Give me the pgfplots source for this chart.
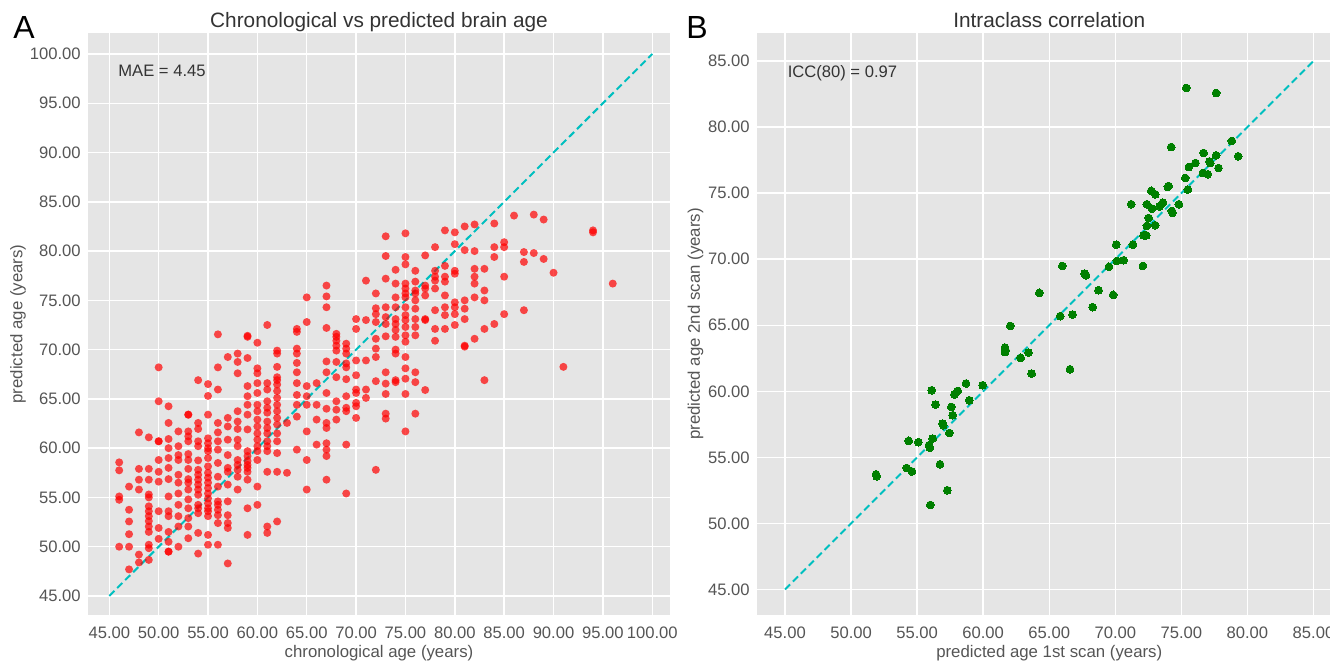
\documentclass[border=0pt]{standalone}
\usepackage{fontspec}
\setmainfont{Liberation Sans}
\usepackage{pgfplots}
\pgfplotsset{compat=1.18}
\definecolor{bg}{HTML}{E5E5E5}
\definecolor{tickgray}{HTML}{555555}
\definecolor{textgray}{HTML}{333333}
\definecolor{mcyan}{HTML}{00BFBF}
\definecolor{mgreen}{HTML}{008000}
\pgfplotsset{ggstyle/.style={
  scale only axis, height=291pt,
  axis background/.style={fill=bg},
  axis line style={draw=none},
  grid=major, major grid style={white, line width=0.7pt},
  major tick length=0pt, tick style={draw=none},
  /pgf/number format/fixed, /pgf/number format/fixed zerofill,
  /pgf/number format/precision=2, /pgf/number format/assume math mode=true,
  ticklabel style={font=\fontsize{8.3}{10}\selectfont, text=tickgray, inner sep=0pt},
  xticklabel style={anchor=north, yshift=-5.6pt},
  yticklabel style={anchor=east, xshift=-3.5pt},
  label style={font=\fontsize{8.4}{10}\selectfont, text=tickgray, inner sep=0pt},
  title style={font=\fontsize{10.4}{12}\selectfont, text=textgray, inner sep=0pt,
     at={(axis description cs:0.5,1)}, anchor=base, yshift=-3.15pt},
}}
\begin{document}
\begin{tikzpicture}
\begin{axis}[ggstyle, at={(44pt,22.5pt)}, anchor=south west, width=291pt,
  xmin=42.84, xmax=101.8, ymin=43.07, ymax=102.13,
  xtick={45,50,...,100}, ytick={45,50,...,100},
  title={Chronological vs predicted brain age},
  xlabel={chronological age (years)}, ylabel={predicted age (years)},
  xlabel style={at={(axis description cs:0.5,0)}, anchor=base, yshift=-21.3pt},
  ylabel style={at={(axis description cs:-0.1129,0.5)}, anchor=base},
]
\addplot[only marks, mark=*, mark size=2pt, mark options={fill=red, fill opacity=0.7, draw opacity=0, line width=0pt}] table[row sep=\\] {
x y\\
46 58.56\\ 46 57.75\\ 46 55.1\\ 46 54.76\\ 46 50.0\\
47 56.1\\ 47 53.75\\ 47 52.56\\ 47 51.27\\ 47 50.0\\ 47 47.7\\
48 61.6\\ 48 57.9\\ 48 56.8\\ 48 55.8\\ 48 49.2\\ 48 48.4\\
49 61.1\\ 49 57.9\\ 49 56.8\\ 49 55.3\\ 49 55.0\\ 49 54.1\\ 49 53.6\\ 49 53.1\\ 49 52.6\\ 49 52.05\\ 49 51.5\\ 49 50.2\\ 49 49.85\\ 49 48.66\\
50 68.2\\ 50 64.76\\ 50 60.7\\ 50 60.7\\ 50 58.8\\ 50 57.6\\ 50 56.6\\ 50 53.6\\ 50 51.9\\ 50 50.8\\
51 64.25\\ 51 62.56\\ 51 60.93\\ 51 60.0\\ 51 59.0\\ 51 58.0\\ 51 56.86\\ 51 55.1\\ 51 53.6\\ 51 53.1\\ 51 51.5\\ 51 50.5\\ 51 49.5\\ 51 49.5\\
52 61.7\\ 52 60.2\\ 52 59.3\\ 52 58.8\\ 52 57.3\\ 52 56.5\\ 52 55.4\\ 52 54.25\\ 52 53.1\\ 52 52.05\\ 52 50.0\\
53 63.4\\ 53 63.4\\ 53 61.7\\ 53 61.2\\ 53 60.7\\ 53 59.4\\ 53 58.8\\ 53 57.9\\ 53 56.86\\ 53 56.5\\ 53 55.8\\ 53 54.8\\ 53 53.9\\ 53 52.9\\ 53 52.05\\ 53 50.86\\
54 66.9\\ 54 62.56\\ 54 61.95\\ 54 60.7\\ 54 60.2\\ 54 58.76\\ 54 57.8\\ 54 57.3\\ 54 56.8\\ 54 56.3\\ 54 55.8\\ 54 55.27\\ 54 54.25\\ 54 53.9\\ 54 53.4\\ 54 51.4\\ 54 49.3\\
55 66.5\\ 55 65.3\\ 55 63.4\\ 55 61.0\\ 55 60.5\\ 55 60.0\\ 55 59.7\\ 55 59.0\\ 55 58.15\\ 55 57.5\\ 55 57.0\\ 55 56.5\\ 55 55.95\\ 55 55.4\\ 55 54.9\\ 55 54.4\\ 55 53.9\\ 55 53.6\\ 55 53.1\\ 55 51.2\\ 55 50.2\\
56 71.55\\ 56 68.2\\ 56 65.95\\ 56 62.56\\ 56 61.6\\ 56 60.7\\ 56 59.85\\ 56 58.5\\ 56 57.1\\ 56 56.1\\ 56 54.6\\ 56 54.25\\ 56 53.75\\ 56 53.2\\ 56 52.4\\ 56 50.2\\
57 69.25\\ 57 63.07\\ 57 62.2\\ 57 60.86\\ 57 59.3\\ 57 58.0\\ 57 57.6\\ 57 56.3\\ 57 54.6\\ 57 53.2\\ 57 52.4\\ 57 51.9\\ 57 48.3\\
58 69.6\\ 58 68.75\\ 58 67.6\\ 58 63.75\\ 58 62.7\\ 58 61.95\\ 58 60.86\\ 58 60.2\\ 58 58.8\\ 58 58.3\\ 58 57.8\\ 58 57.1\\ 58 55.8\\
59 71.4\\ 59 71.3\\ 59 69.15\\ 59 66.3\\ 59 65.27\\ 59 64.4\\ 59 63.4\\ 59 61.9\\ 59 59.7\\ 59 59.2\\ 59 58.7\\ 59 58.3\\ 59 58.0\\ 59 57.6\\ 59 56.8\\ 59 53.9\\ 59 51.2\\
60 70.7\\ 60 68.1\\ 60 67.6\\ 60 66.6\\ 60 65.6\\ 60 64.4\\ 60 63.75\\ 60 62.9\\ 60 62.2\\ 60 61.5\\ 60 60.86\\ 60 60.2\\ 60 59.7\\ 60 58.8\\ 60 56.1\\ 60 54.25\\
61 72.5\\ 61 66.6\\ 61 65.95\\ 61 64.76\\ 61 64.1\\ 61 63.6\\ 61 62.7\\ 61 62.05\\ 61 61.5\\ 61 60.7\\ 61 60.2\\ 61 59.7\\ 61 57.6\\ 61 52.05\\ 61 51.4\\
62 69.9\\ 62 69.6\\ 62 68.25\\ 62 67.2\\ 62 66.9\\ 62 66.45\\ 62 65.8\\ 62 65.1\\ 62 64.4\\ 62 63.75\\ 62 63.07\\ 62 62.4\\ 62 61.5\\ 62 60.7\\ 62 59.5\\ 62 57.6\\ 62 52.56\\
63 62.56\\ 63 57.5\\
64 72.1\\ 64 71.8\\ 64 70.1\\ 64 69.6\\ 64 68.65\\ 64 67.7\\ 64 66.6\\ 64 65.4\\ 64 64.4\\ 64 63.2\\ 64 59.85\\
65 75.3\\ 65 72.8\\ 65 66.3\\ 65 65.27\\ 65 64.4\\ 65 61.7\\ 65 58.8\\ 65 55.8\\
66 66.6\\ 66 64.4\\ 66 62.9\\ 66 60.36\\
67 76.5\\ 67 75.4\\ 67 74.3\\ 67 72.2\\ 67 68.8\\ 67 67.7\\ 67 65.6\\ 67 64.0\\ 67 62.56\\ 67 62.05\\ 67 60.5\\ 67 59.85\\ 67 59.2\\ 67 56.8\\
68 71.6\\ 68 71.3\\ 68 70.9\\ 68 70.4\\ 68 69.9\\ 68 68.75\\ 68 67.2\\ 68 64.76\\ 68 63.9\\ 68 62.9\\
69 70.6\\ 69 70.1\\ 69 69.6\\ 69 68.6\\ 69 68.2\\ 69 67.0\\ 69 65.27\\ 69 64.1\\ 69 63.75\\ 69 60.36\\ 69 55.4\\
70 73.1\\ 70 72.1\\ 70 68.9\\ 70 67.4\\ 70 65.95\\ 70 65.6\\ 70 64.6\\ 70 64.25\\ 70 63.07\\
71 77.0\\ 71 73.0\\ 71 68.9\\ 71 65.95\\ 71 65.1\\
72 75.7\\ 72 74.2\\ 72 73.6\\ 72 72.8\\ 72 71.1\\ 72 70.1\\ 72 69.25\\ 72 66.8\\ 72 57.8\\
73 81.5\\ 73 79.5\\ 73 77.2\\ 73 74.3\\ 73 73.3\\ 73 72.6\\ 73 71.35\\ 73 67.7\\ 73 66.55\\ 73 65.5\\ 73 63.5\\ 73 63.0\\
74 78.1\\ 74 76.7\\ 74 75.3\\ 74 74.3\\ 74 73.1\\ 74 72.6\\ 74 72.0\\ 74 71.3\\ 74 70.0\\ 74 69.6\\ 74 66.9\\ 74 66.7\\
75 81.8\\ 75 79.4\\ 75 78.65\\ 75 76.7\\ 75 76.2\\ 75 75.7\\ 75 75.3\\ 75 74.3\\ 75 73.5\\ 75 73.0\\ 75 72.3\\ 75 71.45\\ 75 70.8\\ 75 69.25\\ 75 68.1\\ 75 67.05\\ 75 65.5\\ 75 61.7\\
76 78.0\\ 76 76.9\\ 76 76.0\\ 76 75.7\\ 76 75.0\\ 76 74.15\\ 76 73.1\\ 76 72.3\\ 76 71.45\\ 76 67.7\\ 76 66.7\\ 76 63.5\\
77 79.56\\ 77 76.5\\ 77 76.2\\ 77 75.5\\ 77 73.1\\ 77 73.0\\ 77 65.9\\
78 80.4\\ 78 78.0\\ 78 77.4\\ 78 77.0\\ 78 76.2\\ 78 74.0\\ 78 72.1\\ 78 70.9\\
79 82.1\\ 79 78.5\\ 79 77.4\\ 79 76.9\\ 79 75.5\\ 79 74.3\\ 79 73.5\\ 79 72.1\\
80 81.9\\ 80 80.7\\ 80 78.0\\ 80 77.7\\ 80 74.8\\ 80 74.3\\ 80 73.6\\ 80 72.5\\
81 82.5\\ 81 80.1\\ 81 75.0\\ 81 74.15\\ 81 73.1\\ 81 70.4\\ 81 70.3\\
82 82.7\\ 82 80.0\\ 82 78.2\\ 82 77.4\\ 82 76.7\\ 82 75.3\\ 82 71.1\\
83 78.2\\ 83 76.0\\ 83 75.0\\ 83 72.1\\ 83 66.9\\
84 82.8\\ 84 80.4\\ 84 79.4\\ 84 72.6\\
85 80.9\\ 85 80.4\\ 85 77.4\\ 85 73.6\\
86 83.6\\
87 79.9\\ 87 78.9\\ 87 74.0\\
88 83.7\\ 88 79.8\\
89 83.2\\ 89 79.2\\
90 77.8\\
91 68.25\\
94 82.1\\ 94 81.9\\
96 76.7\\
};
\addplot[mcyan, line width=1pt, dash pattern=on 3.6pt off 2pt] coordinates {(45,45) (100,100)};
\node[anchor=base west, inner sep=0pt, font=\fontsize{8.3}{10}\selectfont, text=textgray] at (axis cs:45.88,97.68) {MAE = 4.45};
\end{axis}

\begin{axis}[ggstyle, at={(378.5pt,22.5pt)}, anchor=south west, width=292.25pt,
  xmin=42.88, xmax=87.12, ymin=43.07, ymax=87.12,
  xtick={45,50,...,85}, ytick={45,50,...,85},
  title={Intraclass correlation},
  xlabel={predicted age 1st scan (years)}, ylabel={predicted age 2nd scan (years)},
  xlabel style={at={(axis description cs:0.5,0)}, anchor=base, yshift=-21.3pt},
  ylabel style={at={(axis description cs:-0.0979,0.5)}, anchor=base},
]
\addplot[only marks, mark=*, mark size=1.95pt, mark options={fill=mgreen, draw=mgreen, line width=0pt}] table[row sep=\\] {
x y\\
75.37 82.96\\ 77.63 82.58\\ 78.82 78.95\\ 79.3 77.79\\ 74.23 78.49\\ 76.68 78.04\\ 77.63 77.86\\ 76.07 77.28\\ 75.57 76.98\\ 77.13 77.4\\ 77.18 77.28\\ 77.81 76.9\\ 76.63 76.53\\ 77.0 76.43\\ 75.29 76.15\\ 75.49 75.27\\ 73.98 75.47\\ 74.03 75.54\\ 72.72 75.17\\ 73.02 74.91\\ 71.2 74.16\\ 72.39 74.16\\ 72.77 73.83\\ 73.35 74.0\\ 73.6 74.28\\ 74.28 73.65\\ 74.33 73.5\\ 74.81 74.16\\ 72.52 73.12\\ 72.39 72.52\\ 73.02 72.57\\ 72.14 71.81\\ 72.34 71.81\\ 70.07 71.1\\ 71.33 71.1\\ 70.12 69.87\\ 70.63 69.92\\ 72.09 69.49\\ 69.52 69.42\\ 65.99 69.49\\ 67.68 68.91\\ 67.78 68.79\\ 68.73 67.65\\ 69.84 67.3\\ 64.25 67.45\\ 68.28 66.37\\ 65.83 65.69\\ 66.77 65.81\\ 62.05 64.95\\
61.65 63.31\\ 61.7 63.1\\ 61.65 62.98\\ 63.42 62.93\\ 62.84 62.53\\ 63.67 61.34\\ 66.57 61.67\\ 56.1 60.08\\ 58.7 60.59\\ 59.96 60.46\\ 57.82 59.75\\ 58.07 60.03\\ 58.95 59.32\\ 56.4 58.99\\ 57.59 58.82\\ 57.69 58.19\\ 56.93 57.56\\ 56.98 57.43\\ 57.44 56.85\\ 54.36 56.25\\ 55.09 56.15\\ 56.18 56.42\\ 55.9 55.92\\ 55.97 55.72\\ 56.73 54.48\\ 54.21 54.2\\ 54.61 53.93\\ 51.89 53.72\\ 51.94 53.57\\ 57.29 52.51\\ 56.0 51.4\\
};
\addplot[mcyan, line width=1pt, dash pattern=on 3.6pt off 2pt] coordinates {(45,45) (85,85)};
\node[anchor=base west, inner sep=0pt, font=\fontsize{8.3}{10}\selectfont, text=textgray] at (axis cs:45.18,83.77) {ICC(80) = 0.97};
\end{axis}
\node[anchor=base west, inner sep=0pt, font=\fontsize{16}{18}\selectfont] at (6.5pt,310.8pt) {A};
\node[anchor=base west, inner sep=0pt, font=\fontsize{16}{18}\selectfont] at (343pt,310.8pt) {B};
\pgfresetboundingbox
\path (0pt,0pt) rectangle (665pt,330pt);
\end{tikzpicture}
\end{document}
